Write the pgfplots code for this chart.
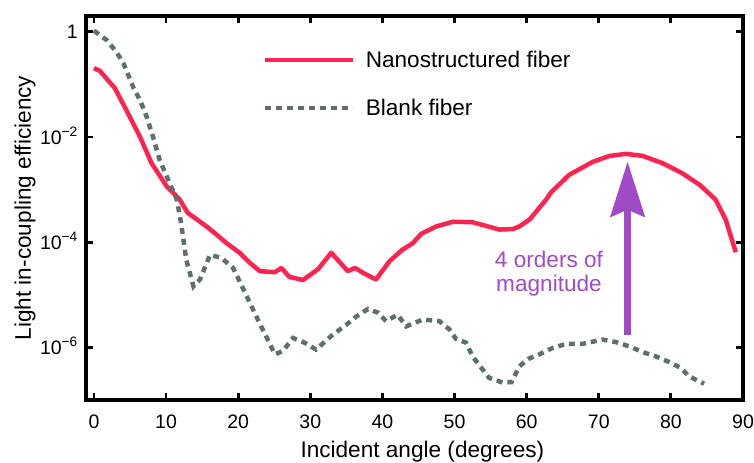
\documentclass[border=0pt]{standalone}
\usepackage{fontspec}
\setmainfont{Liberation Sans}
\usepackage{pgfplots}
\pgfplotsset{compat=1.18}
\usetikzlibrary{arrows.meta}
\definecolor{nanored}{RGB}{255,36,80}
\definecolor{blankgray}{RGB}{94,112,108}
\definecolor{arrowpurple}{RGB}{160,74,200}

\begin{document}
\begin{tikzpicture}
\begin{axis}[
  name=ax,
  scale only axis, width=657pt, height=384pt,
  xmin=-1.1, xmax=90,
  ymode=log, ymin=1e-7, ymax=2,
  xtick={0,10,...,90},
  ytick={1,1e-2,1e-4,1e-6},
  yticklabels={1\hspace{4pt}, 10\textsuperscript{−2}, 10\textsuperscript{−4}, 10\textsuperscript{−6}},
  yminorticks=false,
  /pgf/number format/assume math mode=true,
  axis line style={line width=3.3pt},
  tick style={line width=2.8pt, black},
  major tick length=7pt,
  tick align=inside,
  tick label style={font=\fontsize{19.5}{22}\selectfont},
  xticklabel style={inner sep=0pt, yshift=-15pt},
  yticklabel style={anchor=base east, inner sep=0pt, xshift=-8pt, yshift=-7pt},
  xlabel={Incident angle (degrees)},
  ylabel={Light in-coupling efficiency},
  label style={font=\fontsize{22.6}{26}\selectfont},
  xlabel style={at={(axis description cs:0.512,-0.135)}, anchor=center},
  ylabel style={at={(axis description cs:-0.0928,0.5)}, anchor=center},
  legend style={at={(axis description cs:0.268,0.909)}, anchor=north west,
    draw=none, fill=none, inner sep=0pt, row sep=30pt,
    nodes={inner sep=0pt}, column sep=11pt,
    font=\fontsize{22.6}{26}\selectfont},
  legend cell align=left,
  legend image code/.code={\draw[#1] (0pt,0pt) -- (88pt,0pt);},
]
\addplot[nanored, line width=4.5pt, line join=round] coordinates {
(0,0.204) (0.8,0.182) (2.9,0.0851) (4.5,0.0324) (6.4,0.01) (8.0,0.00316)
(10.1,0.00115) (11.9,6.46e-4) (13.0,3.63e-4) (15.6,2.0e-4) (17.3,1.29e-4)
(18.4,9.55e-5) (20.2,6.31e-5) (21.6,4.07e-5) (23.0,2.82e-5) (25.1,2.69e-5)
(26.0,3.24e-5) (27.1,2.19e-5) (29.0,1.91e-5) (31.1,3.09e-5) (32.9,6.31e-5)
(35.2,2.82e-5) (36.2,3.24e-5) (37.3,2.63e-5) (39.1,1.95e-5) (41.0,4.37e-5)
(42.8,7.24e-5) (44.2,9.55e-5) (45.4,1.45e-4) (47.5,2.0e-4) (49.8,2.45e-4)
(52.5,2.40e-4) (56.2,1.74e-4) (58.1,1.78e-4) (59.0,2.0e-4) (60.4,2.69e-4)
(62.7,6.46e-4) (63.4,8.91e-4) (65.9,1.91e-3) (69.2,3.39e-3) (71.5,4.37e-3)
(73.8,4.79e-3) (76.1,4.37e-3) (78.9,3.16e-3) (81.6,2.04e-3) (84.0,1.23e-3)
(86.2,6.46e-4) (87.6,2.69e-4) (89.0,6.46e-5)
};
\addlegendentry{\rule{0pt}{16.5pt}Nanostructured fiber}
\addplot[blankgray, line width=4.5pt, dash pattern=on 6pt off 5pt] coordinates {
(0,1.05) (1.8,0.692) (3.1,0.417) (4.1,0.251) (5.5,0.0851) (6.4,0.0501)
(7.3,0.0245) (8.2,0.01) (9.1,3.72e-3) (10.5,1.32e-3) (11.5,6.46e-4)
(12.1,2.24e-4) (12.8,4.68e-5) (13.8,1.45e-5) (14.7,1.95e-5) (16.1,5.75e-5)
(17.7,5.01e-5) (19.3,3.24e-5) (21.1,1.0e-5) (21.6,7.08e-6) (23.4,2.19e-6)
(25.1,7.41e-7) (26.2,8.51e-7) (27.6,1.51e-6) (29.2,1.23e-6) (30.8,9.12e-7)
(33.1,1.74e-6) (35.0,2.69e-6) (36.4,3.89e-6) (38.0,5.37e-6) (39.4,4.57e-6)
(40.5,3.16e-6) (42.1,4.17e-6) (43.3,2.51e-6) (45.6,3.39e-6) (47.9,3.16e-6)
(49.3,2.19e-6) (50.2,1.45e-6) (51.6,1.23e-6) (52.5,6.76e-7) (53.9,3.80e-7)
(54.8,2.63e-7) (56.7,2.14e-7) (57.9,2.19e-7) (59.0,4.37e-7) (60.2,6.03e-7)
(61.8,7.41e-7) (63.6,9.77e-7) (65.5,1.17e-6) (67.8,1.17e-6) (70.5,1.41e-6)
(72.4,1.26e-6) (74.2,1.05e-6) (76.1,8.13e-7) (77.9,6.76e-7) (79.8,5.25e-7)
(81.4,4.07e-7) (82.5,2.82e-7) (84.6,2.04e-7)
};
\addlegendentry{\rule{0pt}{16.5pt}Blank fiber}
\draw[arrowpurple, line width=6.7pt, -{Stealth[length=55pt, width=34pt, inset=7pt]}]
  (axis cs:74,1.74e-6) -- (axis cs:74,3.4e-3);
\node[arrowpurple, align=center, font=\fontsize{22.6}{24}\selectfont]
  at (axis cs:63.1,2.57e-5) {4 orders of\\magnitude};
\end{axis}
\pgfresetboundingbox
\path[use as bounding box] ([shift={(-86pt,-63pt)}]ax.south west) rectangle ([shift={(11pt,16pt)}]ax.north east);
\end{tikzpicture}
\end{document}
